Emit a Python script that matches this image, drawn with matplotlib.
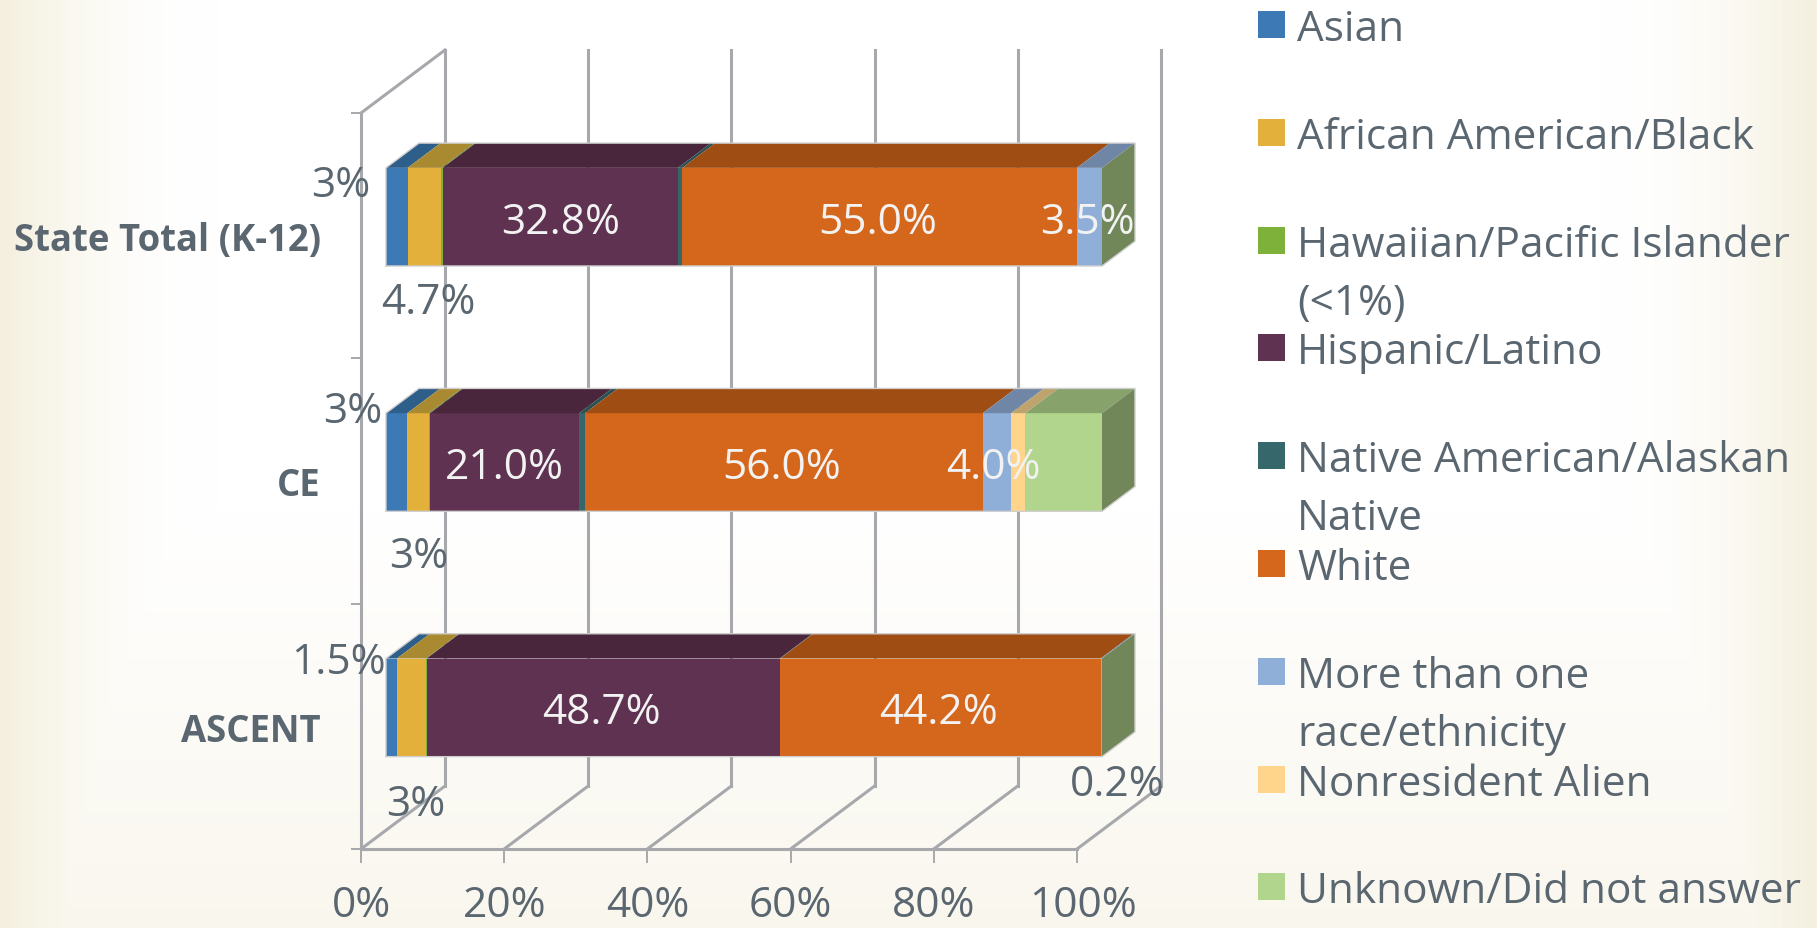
import numpy as np
import matplotlib
matplotlib.use('Agg')
import matplotlib.pyplot as plt
from matplotlib.patches import Polygon, Rectangle
from matplotlib.transforms import Affine2D

W, H = 1817, 929

# Data
categories = ['State Total (K-12)', 'CE', 'ASCENT']
groups = ['Asian', 'African American/Black', 'Hawaiian/Pacific Islander\n(<1%)', 'Hispanic/Latino',
          'Native American/Alaskan\nNative', 'White', 'More than one\nrace/ethnicity',
          'Nonresident Alien', 'Unknown/Did not answer']
asian = [3.0, 3.0, 1.5]
black = [4.7, 3.0, 4.0]
pacific = [0.2, 0.2, 0.1]
hispanic = [32.8, 21.0, 48.7]
native = [0.6, 0.8, 0.1]
white = [55.0, 56.0, 44.2]
multi = [3.5, 4.0, 0.2]
nonres = [0.0, 2.0, 0.0]
unknown = [0.0, 10.8, 0.0]
series = [asian, black, pacific, hispanic, native, white, multi, nonres, unknown]
xticks = [0, 20, 40, 60, 80, 100]

front_cols = ['#3D7AB5', '#E3B03C', '#7EB13A', '#5E3250', '#36686B', '#D5671C', '#8FAFD8', '#FFD58C', '#B1D58C']
top_cols = ['#2E5E8A', '#AA8A30', '#5F8A2C', '#4A263D', '#2A5053', '#9F4D12', '#7086A6', '#BFA36D', '#87A36B']
side_col = '#71875A'
grid_col = '#A6A8AB'
txt_col = '#5A6670'

plt.rcParams['font.family'] = ['Open Sans', 'DejaVu Sans']

fig = plt.figure(figsize=(W / 100, H / 100), dpi=100)

# fondo: blanco al centro, crema en los bordes
bg = fig.add_axes([0, 0, 1, 1], zorder=-1)
yy, xx = np.mgrid[0:1:200j, 0:1:300j]
edge = np.clip((np.abs(xx - 0.5) / 0.5 - 0.76) / 0.24, 0, 1) ** 2 * 0.95
low = np.clip((yy - 0.55) / 0.45, 0, 1) * 0.5
k = np.clip(np.maximum(edge, low), 0, 1)[..., None]
img = (1 - k) * np.array([1, 1, 1]) + k * np.array([0.955, 0.935, 0.865])
bg.imshow(img, aspect='auto', extent=[0, 1, 0, 1], origin='upper')
bg.axis('off')

# eje en el plano frontal del grafico 3D
ax = fig.add_axes([361 / W, 1 - 850 / H, 716 / W, 736 / H])
ax.patch.set_alpha(0)
ax.set_xlim(0, 100)
ax.set_ylim(3, 0)


def depth(px):
    # desplazamiento oblicuo en pixeles
    return ax.transData + Affine2D().translate(px, 0.75 * px)


lw_grid = 2.2
wall = depth(84)
for x in xticks:
    ax.plot([x, x], [0, 3], color=grid_col, lw=lw_grid, transform=wall, clip_on=False, zorder=1)
    ax.plot([x, x + 84 * 100 / 716], [3, 3 - 63 * 3 / 736], color=grid_col, lw=lw_grid, clip_on=False, zorder=1)
ax.plot([0, 84 * 100 / 716], [0, -63 * 3 / 736], color=grid_col, lw=lw_grid, clip_on=False, zorder=1)

# barras
bar_h = 0.4
d_front, d_back = 25, 58
dx = (d_back - d_front) * 100 / 716
dy = (d_back - d_front) * 0.75 * 3 / 736
vals = np.array(series, dtype=float)
vals = vals / vals.sum(axis=0) * 100
tr = depth(d_front)
for c in range(len(categories)):
    y0 = c + 0.5 - bar_h / 2
    y1 = c + 0.5 + bar_h / 2
    left = 0
    for s in range(len(groups)):
        v = vals[s][c]
        if v > 0:
            ax.barh(c + 0.5, v, left=left, height=bar_h, color=front_cols[s], transform=tr, zorder=3, lw=0,
                    clip_on=False)
            ax.add_patch(Polygon([(left, y0), (left + v, y0), (left + v + dx, y0 - dy), (left + dx, y0 - dy)],
                                 closed=True, fc=top_cols[s], ec='none', transform=tr, zorder=3, clip_on=False))
        left += v
    ax.add_patch(Polygon([(100, y0), (100 + dx, y0 - dy), (100 + dx, y1 - dy), (100, y1)],
                         closed=True, fc=side_col, ec='none', transform=tr, zorder=3, clip_on=False))
    ax.plot([0, 100, 100 + dx, 100 + dx, dx, 0, 0], [y1, y1, y1 - dy, y0 - dy, y0 - dy, y0, y1],
            color='#CFCFCF', lw=1, transform=tr, zorder=4, clip_on=False)

# ejes
for sp in ['top', 'right']:
    ax.spines[sp].set_visible(False)
for sp in ['left', 'bottom']:
    ax.spines[sp].set_color(grid_col)
    ax.spines[sp].set_linewidth(lw_grid)
ax.set_xticks(xticks)
ax.set_xticklabels([f'{x}%' for x in xticks], fontsize=30.5, color=txt_col)
ax.tick_params(axis='x', length=10, width=1.4, color=grid_col, pad=15)
ax.xaxis.get_ticklabels()[-1].set_transform(ax.xaxis.get_ticklabels()[-1].get_transform() + Affine2D().translate(6, 0))
ax.set_yticks([0, 1, 2, 3])
ax.set_yticklabels([])
ax.tick_params(axis='y', which='major', length=7, width=1.4, color=grid_col)
ax.set_yticks([0.5, 1.5, 2.5], minor=True)
ax.set_yticklabels(categories, minor=True, fontsize=26.3, fontweight='bold', color=txt_col)
ax.tick_params(axis='y', which='minor', length=0, pad=29)


def label(txt, x, y, col=txt_col):
    fig.text(x / W, 1 - (y + 4) / H, txt, color=col, fontsize=30.5, ha='center', va='center', zorder=10)


# etiquetas de datos
for txt, x, y in [('3%', 341, 182), ('4.7%', 428, 299), ('3%', 353, 408), ('3%', 419, 553),
                  ('1.5%', 338, 659), ('3%', 416, 801), ('0.2%', 1117, 781)]:
    label(txt, x, y)
for txt, x, y in [('32.8%', 561, 219), ('55.0%', 878, 219), ('3.5%', 1087, 219), ('21.0%', 504, 464),
                  ('56.0%', 782, 464), ('4.0%', 993, 464), ('48.7%', 601, 709), ('44.2%', 939, 709)]:
    label(txt, x, y, '#F2F2F2')

# leyenda
for i, g in enumerate(groups):
    yc = 25.5 + 107.8 * i
    fig.add_artist(Rectangle((1258 / W, 1 - (yc + 13.5) / H), 27 / W, 27 / H, fc=front_cols[i], ec='none',
                             transform=fig.transFigure))
    for j, line in enumerate(g.split('\n')):
        fig.text(1297 / W, 1 - (yc + 4.5 + j * 58) / H, line, color=txt_col, fontsize=30.4, ha='left', va='center')

fig.savefig('out.png', dpi=100)
